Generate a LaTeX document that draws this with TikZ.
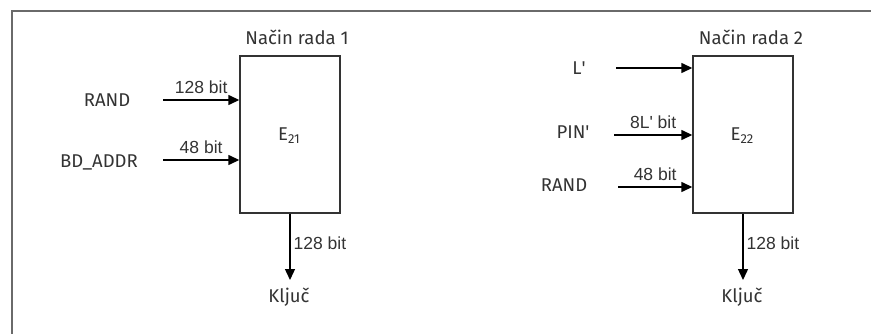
\documentclass[tikz,border=0pt]{standalone}
\usepackage{fontspec}
\setmainfont{Fira Sans}
\newfontfamily\bitfont{Liberation Sans}
\usetikzlibrary{arrows.meta}
\definecolor{ink}{HTML}{333333}
\definecolor{framegray}{HTML}{6A6A6A}
\newcommand{\idx}[1]{\raisebox{-3pt}{\fontsize{13}{13}\selectfont #1}}
\begin{document}
\begin{tikzpicture}[x=1pt,y=-1pt,
  block/.style={draw=ink,line width=1.4pt,minimum width=100pt,minimum height=157pt,inner sep=0pt},
  lbl/.style={text=ink,font=\fontsize{18.5}{18.5}\selectfont,inner sep=0pt},
  bits/.style={text=ink,font=\bitfont\fontsize{17.5}{17.5}\selectfont,inner sep=0pt},
  flow/.style={draw=black,line width=1.4pt,-{Triangle[length=11pt,width=10pt]}}]
\useasboundingbox (0,0) rectangle (872,334);
% partial outer frame
\draw[framegray,line width=2.2pt] (12,334) -- (12,11) -- (871,11);

% ---- mode 1
\node[block] (e1) at (290,134.5) {};
\node[lbl] (n1) at (289,136) {E\idx{21}};
\node[lbl] (t1) at (297,37) {Način rada 1};
\node[lbl] (rand1) at (107,100) {RAND};
\node[lbl] (bd) at (99,162) {BD\_ADDR};
\node[lbl] (k1) at (289,297) {Ključ};
\coordinate (s1) at (163,100);
\coordinate (s2) at (163,160);
\draw[flow] (s1) -- (s1 -| e1.west) node[bits,midway,above=6pt] {128 bit};
\draw[flow] (s2) -- (s2 -| e1.west) node[bits,midway,above=6pt] {48 bit};
\draw[flow] (e1.south) -- (e1.south |- 0,280)
  node[bits,pos=0.45,anchor=west,xshift=3pt] {128 bit};

% ---- mode 2
\node[block] (e2) at (743,134.5) {};
\node[lbl] (n2) at (742,136) {E\idx{22}};
\node[lbl] (t2) at (751,37) {Način rada 2};
\node[lbl] (lp) at (579,68) {L\textquotesingle};
\node[lbl] (pin) at (573,132) {PIN\textquotesingle};
\node[lbl] (rand2) at (564,185) {RAND};
\node[lbl] (k2) at (742,297) {Ključ};
\coordinate (s3) at (616,68);
\coordinate (s4) at (614,135);
\coordinate (s5) at (618,187);
\draw[flow] (s3) -- (s3 -| e2.west);
\draw[flow] (s4) -- (s4 -| e2.west) node[bits,midway,above=6pt] {8L' bit};
\draw[flow] (s5) -- (s5 -| e2.west) node[bits,midway,above=6pt] {48 bit};
\draw[flow] (e2.south) -- (e2.south |- 0,280)
  node[bits,pos=0.45,anchor=west,xshift=3pt] {128 bit};
\end{tikzpicture}
\end{document}
